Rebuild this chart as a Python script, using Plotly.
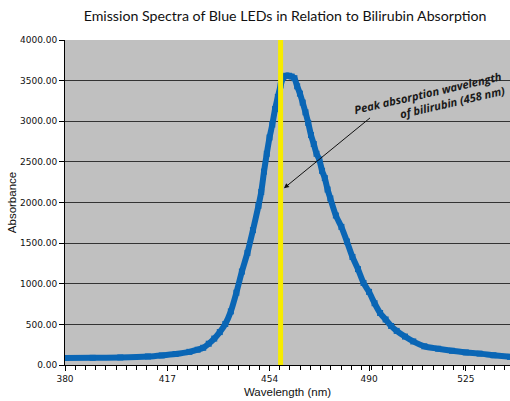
import plotly.graph_objects as go

wavelength = [380, 390, 400, 410, 415, 420, 425, 428, 430, 432, 434, 436, 438, 440, 442, 444, 446, 448,
              450, 451, 452, 453, 454, 455, 456, 457, 458, 459, 460, 461, 462, 463, 464, 465, 466, 467,
              468, 469, 470, 471, 472, 473, 474, 475, 476, 478, 480, 482, 484, 486, 488, 490, 492, 494,
              496, 498, 500, 503, 506, 510, 515, 520, 525, 530, 535, 541]
absorbance = [86, 88, 93, 105, 118, 135, 162, 188, 212, 262, 325, 405, 505, 660, 890, 1150, 1380, 1660,
              1960, 2130, 2380, 2600, 2800, 2960, 3150, 3300, 3440, 3540, 3560, 3560, 3550, 3530, 3430, 3340,
              3230, 3110, 2980, 2830, 2720, 2600, 2530, 2390, 2300, 2160, 2050, 1840, 1700, 1520, 1330, 1180,
              1010, 900, 760, 640, 560, 480, 420, 350, 290, 230, 200, 175, 155, 140, 120, 100]

x_tick_vals = [380, 417, 454, 490, 525]
x_tick_text = ["380", "417", "454", "490", "525"]
y_tick_vals = [0, 500, 1000, 1500, 2000, 2500, 3000, 3500, 4000]
peak_nm = 458

fig = go.Figure()
fig.add_trace(go.Scatter(
    x=wavelength, y=absorbance, mode="lines+markers",
    line=dict(color="#0A66B5", width=6, shape="spline", smoothing=0.6),
    marker=dict(symbol="square", size=6, color="#0A66B5"),
    showlegend=False, hoverinfo="skip"))

fig.add_shape(type="line", xref="x", yref="paper", x0=peak_nm, x1=peak_nm, y0=0, y1=1,
              line=dict(color="#F7EC00", width=5), layer="above")

fig.add_annotation(x=459.2, y=2175, ax=490.9, ay=3056, xref="x", yref="y", axref="x", ayref="y",
                   text="", showarrow=True, arrowhead=2, arrowsize=1, arrowwidth=1, arrowcolor="#111")
fig.add_annotation(x=512.0, y=3265, xref="x", yref="y", showarrow=False,
                   text="<b><i>Peak absorption wavelength<br>of bilirubin (458 nm)</i></b>",
                   textangle=-13, align="right", xanchor="center", yanchor="middle",
                   font=dict(family="Open Sans", size=11.2, color="#1a1a1a"))

fig.update_layout(
    width=510, height=401,
    margin=dict(l=65, r=0, t=40, b=36),
    paper_bgcolor="white", plot_bgcolor="#C0C0C0",
    title=dict(text="Emission Spectra of Blue LEDs in Relation to Bilirubin Absorption",
               x=0.559, xanchor="center", y=0.96, yanchor="middle",
               font=dict(family="Lato", size=14.2, color="#111")),
)
fig.update_xaxes(range=[380, 541], tickmode="array", tickvals=x_tick_vals, ticktext=x_tick_text,
                 ticks="outside", ticklen=5, tickcolor="black", showgrid=False, zeroline=False,
                 showline=True, linecolor="black", linewidth=1,
                 minor=dict(tick0=380, dtick=3.7, ticks="outside", ticklen=4, tickcolor="black", showgrid=False),
                 tickfont=dict(family="DejaVu Sans", size=9, color="#111"),
                 title=dict(text="Wavelength (nm)", standoff=5,
                            font=dict(family="Liberation Sans", size=11.5, color="#111")))
fig.update_yaxes(range=[0, 4000], tickmode="array", tickvals=y_tick_vals, tickformat=".2f",
                 ticks="outside", ticklen=5, tickcolor="black", showgrid=True, gridcolor="#333",
                 gridwidth=1, zeroline=False, showline=True, linecolor="black", linewidth=1,
                 tickfont=dict(family="DejaVu Sans", size=9, color="#111"),
                 title=dict(text="Absorbance", standoff=0,
                            font=dict(family="Liberation Sans", size=11.5, color="#111")))

fig.write_html("out.html", config={"displayModeBar": False},
               post_script="document.body.style.margin='0';document.body.style.overflow='hidden';")
